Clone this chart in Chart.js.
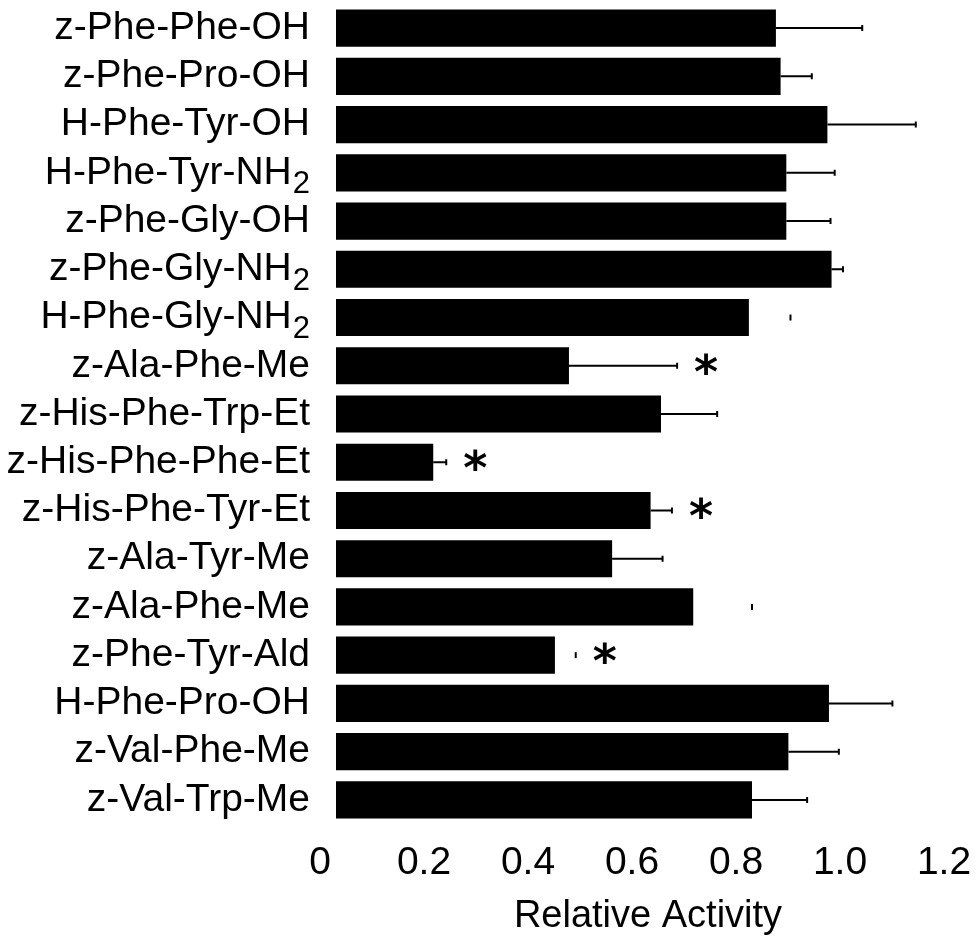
<!DOCTYPE html>
<html>
<head>
<meta charset="utf-8">
<script src="https://cdn.jsdelivr.net/npm/chart.js@4/dist/chart.umd.min.js"></script>
<style>
  body { margin: 0; background: #fff; }
</style>
</head>
<body>
<canvas id="chart" width="979" height="944"></canvas>
<script>
const compounds = [
    'z-Phe-Phe-OH', 'z-Phe-Pro-OH', 'H-Phe-Tyr-OH', 'H-Phe-Tyr-NH₂',
    'z-Phe-Gly-OH', 'z-Phe-Gly-NH₂', 'H-Phe-Gly-NH₂', 'z-Ala-Phe-Me',
    'z-His-Phe-Trp-Et', 'z-His-Phe-Phe-Et', 'z-His-Phe-Tyr-Et', 'z-Ala-Tyr-Me',
    'z-Ala-Phe-Me', 'z-Phe-Tyr-Ald', 'H-Phe-Pro-OH', 'z-Val-Phe-Me', 'z-Val-Trp-Me'
];
const activity = [0.846, 0.855, 0.945, 0.866, 0.866, 0.953, 0.794, 0.448,
                  0.625, 0.187, 0.605, 0.531, 0.687, 0.421, 0.948, 0.870, 0.800];
const errors = [0.166, 0.060, 0.170, 0.093, 0.085, 0.022, 0.080, 0.208,
                0.108, 0.025, 0.041, 0.097, 0.113, 0.040, 0.122, 0.097, 0.106];
// in the original some whiskers only show their end cap
const whiskerShown = [true, true, true, true, true, true, false, true,
                      true, true, true, true, false, false, true, true, true];
const significant = [false, false, false, false, false, false, false, true,
                     false, true, true, false, false, true, false, false, false];
const xTicks = [0, 0.2, 0.4, 0.6, 0.8, 1.0, 1.2];

const FONT = 'Liberation Sans, Arial, sans-serif';

const annotate = {
    id: 'annotate',
    afterDatasetsDraw(chart) {
        const ctx = chart.ctx;
        const x = chart.scales.x, y = chart.scales.y;
        ctx.save();
        ctx.strokeStyle = '#000';
        ctx.fillStyle = '#000';
        ctx.lineWidth = 2;
        activity.forEach((v, i) => {
            const yc = y.getPixelForValue(i);
            const x0 = x.getPixelForValue(v);
            const x1 = x.getPixelForValue(v + errors[i]);
            ctx.beginPath();
            if (whiskerShown[i]) {
                ctx.moveTo(x0, yc);
                ctx.lineTo(x1, yc);
            }
            ctx.moveTo(x1, yc - 3);
            ctx.lineTo(x1, yc + 3);
            ctx.stroke();
            if (significant[i]) {
                ctx.font = 'bold 46px DejaVu Sans, sans-serif';
                ctx.textAlign = 'center';
                ctx.textBaseline = 'middle';
                ctx.fillText('*', x1 + 29, yc + 10);
            }
        });
        ctx.restore();
    },
    afterDraw(chart) {
        // category labels, with the subscript 2 set lower
        const ctx = chart.ctx;
        const y = chart.scales.y;
        ctx.save();
        ctx.fillStyle = '#000';
        ctx.textBaseline = 'middle';
        ctx.textAlign = 'right';
        compounds.forEach((name, i) => {
            const yc = y.getPixelForValue(i);
            let right = 310;
            if (name.endsWith('₂')) {
                ctx.font = '31px ' + FONT;
                ctx.fillText('2', right, yc + 12);
                right -= ctx.measureText('2').width + 1;
                name = name.slice(0, -1);
            }
            ctx.font = '39px ' + FONT;
            ctx.fillText(name, right, yc);
        });
        ctx.restore();
    }
};

new Chart(document.getElementById('chart'), {
    type: 'bar',
    data: {
        labels: compounds,
        datasets: [{
            data: activity,
            backgroundColor: '#000',
            borderWidth: 0,
            categoryPercentage: 1,
            barPercentage: 0.77
        }]
    },
    options: {
        indexAxis: 'y',
        responsive: false,
        animation: false,
        layout: { padding: { top: 4, right: 19 } },
        plugins: { legend: { display: false }, tooltip: { enabled: false } },
        scales: {
            x: {
                min: 0,
                max: 1.2,
                afterBuildTicks: s => { s.ticks = xTicks.map(v => ({ value: v })); },
                afterFit: s => { s.height = 120; s.paddingLeft = 0; s.paddingRight = 0; },
                grid: { display: false },
                border: { display: false },
                ticks: {
                    color: '#000',
                    font: { family: FONT, size: 39 },
                    padding: 8,
                    labelOffset: -16,
                    callback: v => v === 0 ? '0' : v.toFixed(1)
                },
                title: {
                    display: true,
                    text: 'Relative Activity',
                    color: '#000',
                    font: { family: FONT, size: 38 },
                    padding: { top: 0, bottom: 5 }
                }
            },
            y: {
                afterFit: s => { s.width = 336; s.paddingTop = 0; s.paddingBottom = 0; },
                grid: { display: false },
                border: { display: false },
                ticks: { color: 'rgba(0,0,0,0)', font: { family: FONT, size: 34 } }
            }
        }
    },
    plugins: [annotate]
});
</script>
</body>
</html>
